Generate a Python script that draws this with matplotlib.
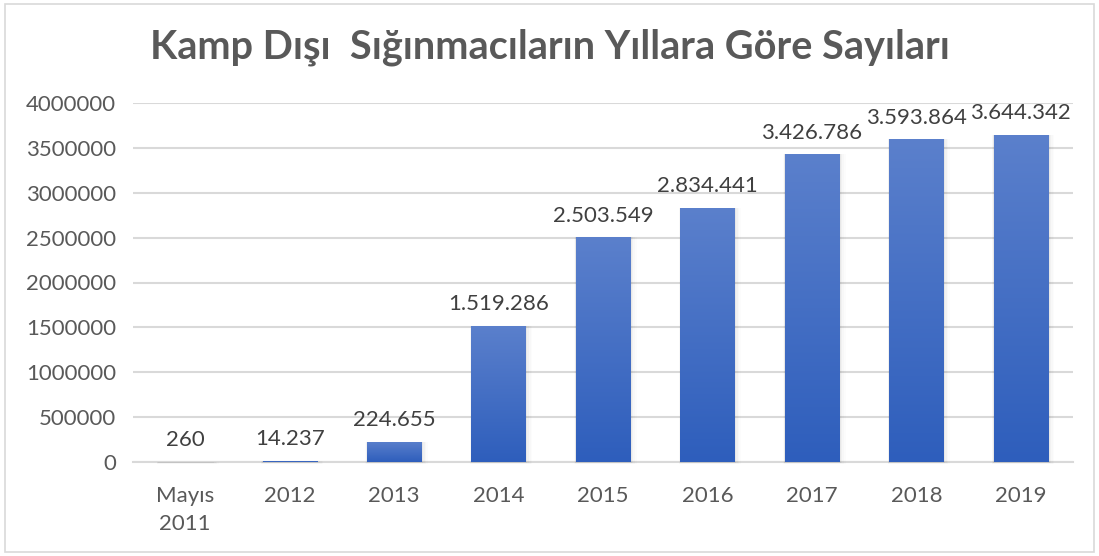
import matplotlib
matplotlib.use("Agg")
import matplotlib.pyplot as plt
import numpy as np
from matplotlib.patches import Rectangle
from matplotlib.colors import LinearSegmentedColormap

categories = ["Mayıs\n2011", "2012", "2013", "2014", "2015", "2016", "2017", "2018", "2019"]
values = [260, 14237, 224655, 1519286, 2503549, 2834441, 3426786, 3593864, 3644342]
labels = ["260", "14.237", "224.655", "1.519.286", "2.503.549", "2.834.441",
          "3.426.786", "3.593.864", "3.644.342"]
yticks = [0, 500000, 1000000, 1500000, 2000000, 2500000, 3000000, 3500000, 4000000]

plt.rcParams['font.family'] = ['Lato', 'DejaVu Sans']

fig = plt.figure(figsize=(10.99, 5.56), dpi=100)
fig.patch.set_facecolor('white')
fig.add_artist(Rectangle((5/1099, 4/556), 1 - 10/1099, 1 - 8/556, transform=fig.transFigure,
                         fill=False, edgecolor='#D9D9D9', linewidth=1.2))

ax = fig.add_axes([133/1099, 1 - 462/556, (1073 - 133)/1099, (462 - 103)/556])

cmap = LinearSegmentedColormap.from_list('g', ['#2E5EBC', '#5B80CC'])
grad = np.linspace(0, 1, 256).reshape(-1, 1)
width = 0.52
x = np.arange(len(categories))
for xi, v in zip(x, values):
    # soft shadow
    for k, a in enumerate([0.04, 0.028, 0.016, 0.01]):
        d = 0.012 * (k + 1)
        ax.add_patch(Rectangle((xi - width/2 - d*0.3, -6000*(k+1)), width + d*1.6, v + 6000*(k+1),
                               facecolor='black', alpha=a, edgecolor='none', zorder=2, clip_on=False))
    rect = Rectangle((xi - width/2, 0), width, v, facecolor='none', edgecolor='none', zorder=3)
    ax.add_patch(rect)
    im = ax.imshow(grad, cmap=cmap, aspect='auto', origin='lower',
                   extent=(xi - width/2, xi + width/2, 0, max(v, 1)), zorder=3,
                   vmin=0, vmax=1)
    im.set_clip_path(rect)
    ax.text(xi, v + 130000, labels[xi], ha='center', va='bottom', fontsize=16,
            color='#404040', zorder=5)

ax.set_xlim(-0.5, len(categories) - 0.5)
ax.set_ylim(0, 4000000)
ax.set_aspect('auto')

ax.set_yticks(yticks)
ax.set_yticklabels([str(t) for t in yticks])
ax.set_xticks(x)
ax.set_xticklabels(categories, linespacing=1.5)
ax.tick_params(axis='both', length=0, labelsize=16, labelcolor='#595959')
ax.tick_params(axis='y', pad=12)
ax.tick_params(axis='x', pad=17)
ax.yaxis.grid(True, color='#D9D9D9', linewidth=1.5, zorder=0)
ax.set_axisbelow(True)
for s in ['top', 'right', 'left']:
    ax.spines[s].set_visible(False)
ax.spines['bottom'].set_color('#D9D9D9')
ax.spines['bottom'].set_linewidth(1.5)
ax.spines['bottom'].set_zorder(1)

fig.text(0.5, 1 - 47/556, "Kamp Dışı  Sığınmacıların Yıllara Göre Sayıları", ha='center', va='center',
         fontsize=28.5, fontweight='bold', color='#595959')

fig.savefig('out.png', dpi=100, facecolor='white')
